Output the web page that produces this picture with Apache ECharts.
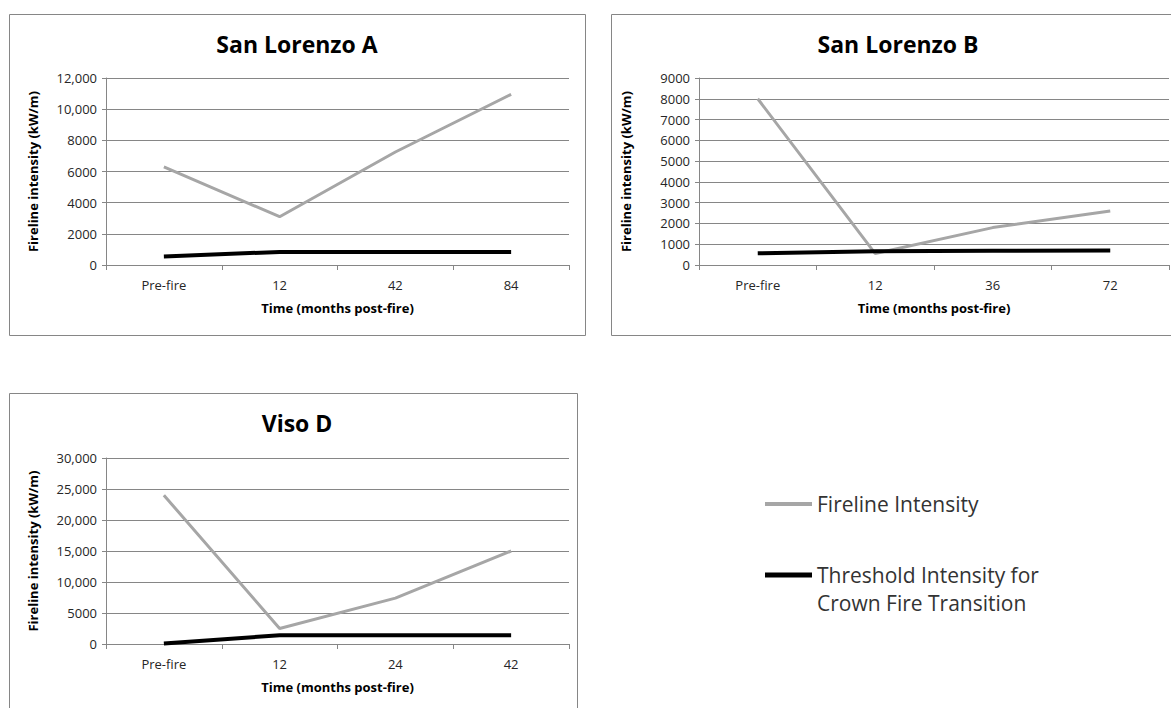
<!DOCTYPE html>
<html>
<head>
<meta charset="utf-8">
<script src="https://cdn.jsdelivr.net/npm/echarts@6/dist/echarts.min.js"></script>
<style>
html,body{margin:0;padding:0;background:#fff;}
#chart{width:1171px;height:708px;}
</style>
</head>
<body>
<div id="chart"></div>
<script>
// ---- data ----
const seriesNames = ['Fireline Intensity', 'Threshold Intensity for Crown Fire Transition'];

const titleA = 'San Lorenzo A';
const categoriesA = ['Pre-fire', '12', '42', '84'];
const firelineA = [6300, 3100, 7250, 10950];
const thresholdA = [550, 840, 840, 840];
const yTicksA = ['0', '2000', '4000', '6000', '8000', '10,000', '12,000'];

const titleB = 'San Lorenzo B';
const categoriesB = ['Pre-fire', '12', '36', '72'];
const firelineB = [8000, 550, 1800, 2600];
const thresholdB = [560, 660, 680, 700];
const yTicksB = ['0', '1000', '2000', '3000', '4000', '5000', '6000', '7000', '8000', '9000'];

const titleD = 'Viso D';
const categoriesD = ['Pre-fire', '12', '24', '42'];
const firelineD = [24000, 2500, 7400, 15000];
const thresholdD = [100, 1400, 1400, 1400];
const yTicksD = ['0', '5000', '10,000', '15,000', '20,000', '25,000', '30,000'];

const xTitle = 'Time (months post-fire)';
const yTitle = 'Fireline intensity (kW/m)';

// ---- styling / layout ----
const FONT = '"Open Sans", "Noto Sans", sans-serif';
const GRID_COLOR = '#868686';
const LABEL_COLOR = '#262626';
const GRAY = '#A6A6A6';
const BLACK = '#000000';

const panels = [
  {title: titleA, cats: categoriesA, fire: firelineA, thr: thresholdA, ticks: yTicksA,
   grid: {left: 106, top: 78, width: 463, height: 187}, titleX: 297, titleY: 44,
   frame: {x: 9.5, y: 14.5, w: 576, h: 321}},
  {title: titleB, cats: categoriesB, fire: firelineB, thr: thresholdB, ticks: yTicksB,
   grid: {left: 699, top: 78, width: 470, height: 187}, titleX: 898, titleY: 44,
   frame: {x: 611.5, y: 14.5, w: 600, h: 321}},
  {title: titleD, cats: categoriesD, fire: firelineD, thr: thresholdD, ticks: yTicksD,
   grid: {left: 106, top: 458, width: 463, height: 186}, titleX: 297, titleY: 423,
   frame: {x: 9.5, y: 393.5, w: 568, h: 330}}
];

function tickValue(s) { return Number(s.replace(/,/g, '')); }

const grids = [], xAxes = [], yAxes = [], series = [], graphics = [];

panels.forEach((p, i) => {
  grids.push(Object.assign({containLabel: false}, p.grid));
  const maxV = tickValue(p.ticks[p.ticks.length - 1]);
  const interval = maxV / (p.ticks.length - 1);
  xAxes.push({
    type: 'category', gridIndex: i, data: p.cats, boundaryGap: true,
    axisLine: {show: true, lineStyle: {color: GRID_COLOR, width: 1}},
    axisTick: {show: true, length: 5, lineStyle: {color: GRID_COLOR}},
    axisLabel: {color: LABEL_COLOR, fontFamily: FONT, fontSize: 13, margin: 13},
    splitLine: {show: false},
    name: xTitle, nameLocation: 'middle', nameGap: 36,
    nameTextStyle: {color: BLACK, fontFamily: FONT, fontSize: 13, fontWeight: 'bold'}
  });
  yAxes.push({
    type: 'value', gridIndex: i, min: 0, max: maxV, interval: interval,
    axisLine: {show: true, lineStyle: {color: GRID_COLOR, width: 1}},
    axisTick: {show: true, length: 4, lineStyle: {color: GRID_COLOR}},
    axisLabel: {color: LABEL_COLOR, fontFamily: FONT, fontSize: 13, margin: 9,
      formatter: v => p.ticks[Math.round(v / interval)]},
    splitLine: {show: true, lineStyle: {color: GRID_COLOR, width: 1}},
    name: yTitle, nameLocation: 'middle', nameGap: 67,
    nameTextStyle: {color: BLACK, fontFamily: FONT, fontSize: 13, fontWeight: 'bold'}
  });
  series.push({
    name: seriesNames[0], type: 'line', xAxisIndex: i, yAxisIndex: i, data: p.fire,
    color: GRAY, symbol: 'none', lineStyle: {color: GRAY, width: 3}, animation: false
  });
  series.push({
    name: seriesNames[1], type: 'line', xAxisIndex: i, yAxisIndex: i, data: p.thr,
    color: BLACK, symbol: 'none', lineStyle: {color: BLACK, width: 4}, animation: false
  });
  graphics.push({
    type: 'rect', silent: true, z: -10,
    shape: {x: p.frame.x, y: p.frame.y, width: p.frame.w, height: p.frame.h},
    style: {fill: 'none', stroke: GRID_COLOR, lineWidth: 1}
  });
  graphics.push({
    type: 'text', silent: true, x: p.titleX, y: p.titleY,
    style: {text: p.title, fill: BLACK, font: 'bold 23px ' + FONT, textAlign: 'center', textVerticalAlign: 'middle'}
  });
});

const legendText = {color: '#333333', fontFamily: FONT, fontSize: 21, lineHeight: 28};

const option = {
  backgroundColor: '#ffffff',
  animation: false,
  grid: grids,
  xAxis: xAxes,
  yAxis: yAxes,
  series: series,
  graphic: graphics,
  legend: [
    {data: [seriesNames[0]], left: 765, top: 490, padding: 0, orient: 'vertical',
     icon: 'rect', itemWidth: 47, itemHeight: 4, selectedMode: false,
     textStyle: legendText},
    {data: [seriesNames[1]], left: 765, top: 533, padding: 0, orient: 'vertical',
     icon: 'rect', itemWidth: 47, itemHeight: 5, selectedMode: false,
     formatter: n => '\n' + n.replace(' for ', ' for\n'),
     textStyle: legendText}
  ]
};

const chart = echarts.init(document.getElementById('chart'), null, {renderer: 'svg'});
chart.setOption(option);
</script>
</body>
</html>
